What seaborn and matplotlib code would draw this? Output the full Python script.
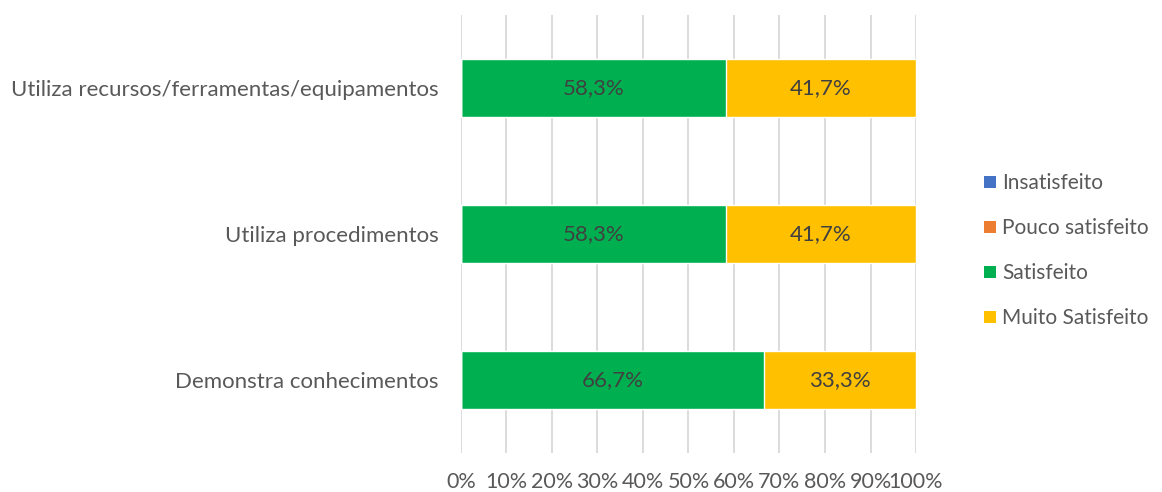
import numpy as np
import pandas as pd
import matplotlib
matplotlib.use("Agg")
import matplotlib.pyplot as plt
import seaborn as sns
from matplotlib.patches import Patch

categories = ["Utiliza recursos/ferramentas/equipamentos",
              "Utiliza procedimentos",
              "Demonstra conhecimentos"]
series = ["Insatisfeito", "Pouco satisfeito", "Satisfeito", "Muito Satisfeito"]
insatisfeito = [0.0, 0.0, 0.0]
pouco = [0.0, 0.0, 0.0]
satisfeito = [58.3, 58.3, 66.7]
muito = [41.7, 41.7, 33.3]
colors = ["#4472C4", "#ED7D31", "#00B050", "#FFC000"]
ticks = list(range(0, 101, 10))

sns.set_theme(style="white")
plt.rcParams["font.family"] = ["Lato", "DejaVu Sans"]
text_color = "#595959"

fig = plt.figure(figsize=(11.62, 4.92), dpi=100)
ax = fig.add_axes([0.3967, 0.0793, 0.3916, 0.8902])

values = [insatisfeito, pouco, satisfeito, muito]
cum = np.cumsum(np.array(values), axis=0)

# draw cumulative totals from the widest down so stacks show through
for i in range(len(series) - 1, -1, -1):
    df = pd.DataFrame({"cat": categories, "val": cum[i]})
    sns.barplot(data=df, y="cat", x="val", orient="h", color=colors[i],
                saturation=1, width=0.4, ax=ax, zorder=2)

# data labels
for j, cat in enumerate(categories):
    left = 0.0
    for i, vals in enumerate(values):
        v = vals[j]
        if v > 0:
            ax.text(left + v / 2, j, f"{v:.1f}%".replace(".", ","),
                    ha="center", va="center", fontsize=16, color="#404040",
                    zorder=3)
        left += v

ax.set_xlim(0, 100)
ax.set_ylim(2.5, -0.5)
ax.set_xticks(ticks)
ax.set_xticklabels([f"{t}%" for t in ticks], fontsize=15.5, color=text_color)
ax.tick_params(axis="x", length=0, pad=14)
ax.tick_params(axis="y", length=0, pad=16, labelsize=16, labelcolor=text_color)
ax.set_xlabel("")
ax.set_ylabel("")
ax.xaxis.grid(True, color="#D9D9D9", linewidth=1.3, zorder=0)
ax.set_axisbelow(True)
for s in ax.spines.values():
    s.set_visible(False)

handles = [Patch(facecolor=c, edgecolor="none") for c in colors]
fig.legend(handles, series, loc="center left", bbox_to_anchor=(0.831, 0.49),
           frameon=False, fontsize=15, labelcolor=text_color,
           handlelength=0.55, handleheight=0.55, handletextpad=0.3,
           labelspacing=1.2)

fig.savefig("out.png", dpi=100)
